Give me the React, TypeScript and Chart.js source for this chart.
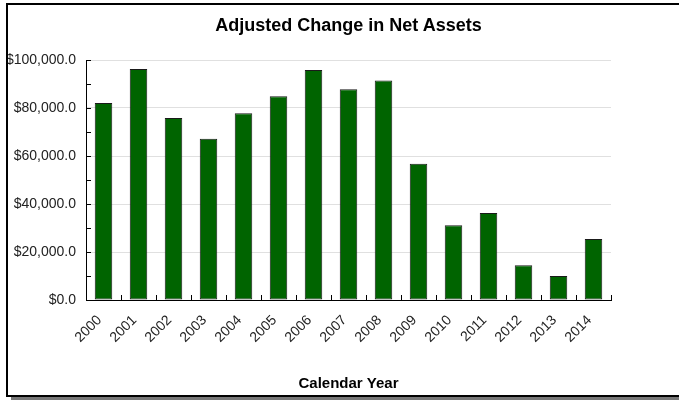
import React, { useEffect, useRef } from "react";
import { Chart, registerables } from "chart.js";

Chart.register(...registerables);

const categories = ["2000", "2001", "2002", "2003", "2004", "2005", "2006", "2007", "2008", "2009", "2010", "2011", "2012", "2013", "2014"];
const netAssetChange = [82100, 96200, 75800, 67200, 77800, 84900, 95800, 87800, 91500, 56800, 31100, 36200, 14500, 10000, 25400];
const yMin = 0;
const yMax = 100000;
const yMajorStep = 20000;
const yMinorStep = 10000;
const chartTitle = "Adjusted Change in Net Assets";
const xTitle = "Calendar Year";

const FONT = "'Liberation Sans', Arial, sans-serif";

const innerTicks = {
  id: "innerTicks",
  afterDraw(chart: any) {
    const { ctx, chartArea } = chart;
    const x = chart.scales.x;
    const y = chart.scales.y;
    ctx.save();
    ctx.strokeStyle = "#000";
    ctx.lineWidth = 1;
    ctx.beginPath();
    for (let v = yMin; v <= yMax; v += yMinorStep) {
      const py = Math.round(y.getPixelForValue(v)) + 0.5;
      ctx.moveTo(chartArea.left, py);
      ctx.lineTo(chartArea.left + 5, py);
    }
    const half = (x.getPixelForValue(1) - x.getPixelForValue(0)) / 2;
    for (let i = 0; i <= categories.length; i++) {
      const px = Math.round(x.getPixelForValue(i) - half) + 0.5;
      ctx.moveTo(px, chartArea.bottom);
      ctx.lineTo(px, chartArea.bottom - 5);
    }
    ctx.stroke();
    ctx.restore();
  },
};

export default function App() {
  const ref = useRef<HTMLCanvasElement>(null);
  useEffect(() => {
    document.body.style.margin = "0";
    const chart = new Chart(ref.current!, {
      type: "bar",
      data: {
        labels: categories,
        datasets: [
          {
            data: netAssetChange,
            backgroundColor: "#006400",
            borderColor: "#1a1a1a",
            borderWidth: 1,
            borderSkipped: false,
            barPercentage: 0.5,
            categoryPercentage: 1,
          },
        ],
      },
      options: {
        animation: false,
        responsive: false,
        layout: { padding: { left: 0, right: 68, top: 55, bottom: 0 } },
        plugins: {
          legend: { display: false },
          tooltip: { enabled: false },
          title: { display: false },
        },
        scales: {
          x: {
            grid: { display: false, drawTicks: false },
            border: { display: true, color: "#000", width: 1 },
            ticks: {
              color: "#222",
              font: { family: FONT, size: 14 },
              maxRotation: 45,
              minRotation: 45,
              padding: 12,
              labelOffset: -4,
              autoSkip: false,
            },
            title: {
              display: true,
              text: xTitle,
              color: "#000",
              font: { family: FONT, size: 15, weight: "bold" },
              padding: { top: 0, bottom: 2 },
            },
            afterFit(scale: any) {
              scale.height = 95;
            },
          },
          y: {
            min: yMin,
            max: yMax,
            grid: { color: "#e0e0e0", drawTicks: false },
            border: { display: true, color: "#000", width: 1 },
            ticks: {
              stepSize: yMajorStep,
              color: "#222",
              padding: 10,
              font: { family: FONT, size: 14 },
              callback: (v: any) =>
                "$" + Number(v).toLocaleString("en-US", { minimumFractionDigits: 1, maximumFractionDigits: 1 }),
            },
            afterFit(scale: any) {
              scale.width = 78;
            },
          },
        },
      },
      plugins: [innerTicks],
    });
    return () => chart.destroy();
  }, []);

  return (
    <div style={{ position: "relative", width: 679, height: 400, overflow: "hidden", background: "#fff" }}>
      <div
        style={{
          position: "absolute",
          left: 6,
          top: 3,
          width: 700,
          height: 390,
          borderTop: "2px solid #000",
          borderLeft: "2px solid #000",
          borderBottom: "2px solid #000",
          boxShadow: "5px 3px 0 #777",
          background: "#fff",
        }}
      >
        <canvas ref={ref} width={671} height={390} style={{ display: "block" }} />
      </div>
      <div
        style={{
          position: "absolute",
          left: 86,
          width: 525,
          top: 15,
          height: 20,
          lineHeight: "20px",
          textAlign: "center",
          fontFamily: FONT,
          fontWeight: "bold",
          fontSize: 18,
          color: "#000",
          whiteSpace: "nowrap",
        }}
      >
        {chartTitle}
      </div>
    </div>
  );
}
